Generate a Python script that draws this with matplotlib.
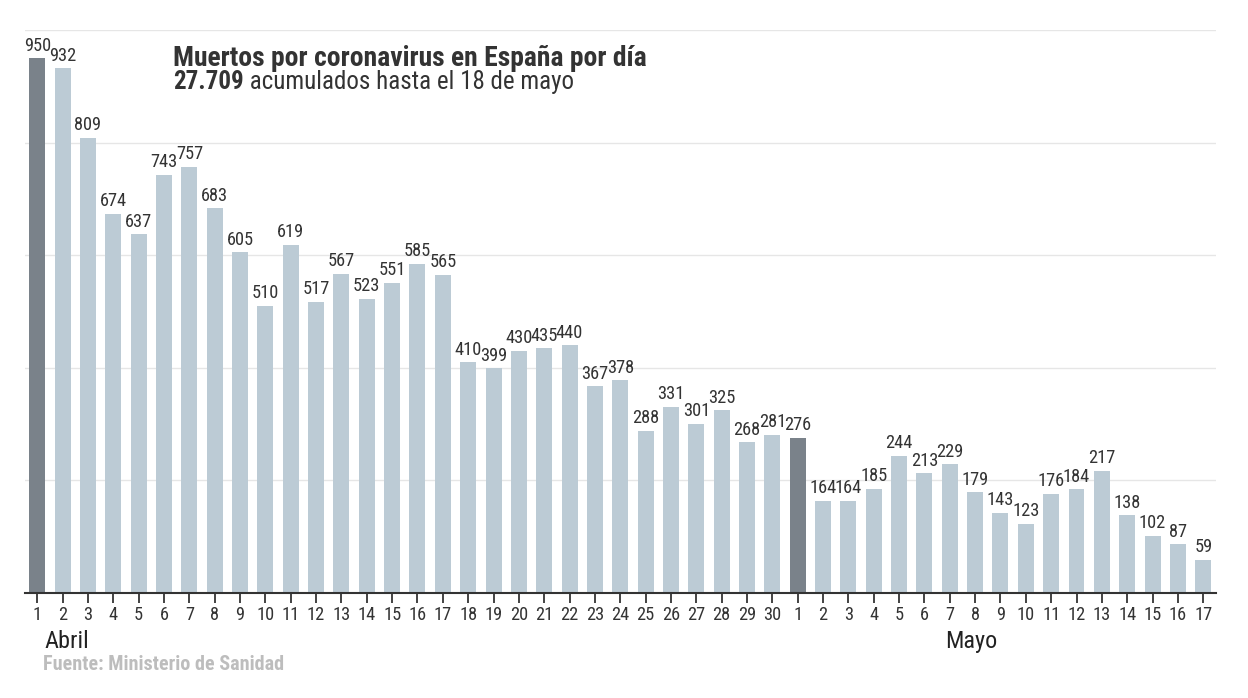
import matplotlib
matplotlib.use('Agg')
import matplotlib.pyplot as plt
from matplotlib import font_manager
import numpy as np

# datos: muertos diarios (1 abril - 17 mayo)
abril = [950, 932, 809, 674, 637, 743, 757, 683, 605, 510, 619, 517, 567, 523, 551,
         585, 565, 410, 399, 430, 435, 440, 367, 378, 288, 331, 301, 325, 268, 281]
mayo = [276, 164, 164, 185, 244, 213, 229, 179, 143, 123, 176, 184, 217, 138, 102, 87, 59]
dias = [str(d) for d in range(1, 31)] + [str(d) for d in range(1, 18)]
valores = abril + mayo
destacados = [0, 30]  # primer dia de cada mes

titulo = 'Muertos por coronavirus en España por día'
total = '27.709'
subtitulo = ' acumulados hasta el 18 de mayo'
fuente = 'Fuente: Ministerio de Sanidad'

names = set(f.name for f in font_manager.fontManager.ttflist)
family = 'Roboto'
for cand in ['Roboto Condensed', 'Liberation Sans Narrow', 'Roboto']:
    if cand in names:
        family = cand
        break
plt.rcParams['font.family'] = [family, 'DejaVu Sans']

c_claro = '#bccbd5'
c_oscuro = '#7a828a'
c_texto = '#333333'

fig = plt.figure(figsize=(12.48, 6.98), dpi=100)
ax = fig.add_axes([0.0197, 0.1504, 0.9546, 0.8066])

x = np.arange(len(valores))
colores = [c_oscuro if i in destacados else c_claro for i in x]
ax.bar(x, valores, width=0.63, color=colores, zorder=2)
for xi, v in zip(x, valores):
    ax.annotate(str(v), (xi, v), xytext=(0, 2.5), textcoords='offset points',
                ha='center', va='bottom', fontsize=13.2, color=c_texto)

ax.set_xlim(-0.5, len(valores) - 0.5)
ax.set_ylim(0, 1000)
ax.set_yticks([200, 400, 600, 800, 1000])
ax.yaxis.grid(True, color='#e6e6e6', lw=1, zorder=0)
ax.tick_params(axis='y', length=0, labelleft=False)
ax.set_xticks(x)
ax.set_xticklabels(dias)
ax.tick_params(axis='x', length=7.5, width=1.2, color='#222222', labelsize=13.2,
               labelcolor=c_texto, pad=2)
for s in ['top', 'right', 'left']:
    ax.spines[s].set_visible(False)
ax.spines['bottom'].set_color('#333333')
ax.spines['bottom'].set_linewidth(1.5)
ax.spines['bottom'].set_zorder(3)

ax.text(0.3, -0.065, 'Abril', transform=ax.get_xaxis_transform(), ha='left',
        va='top', fontsize=17.5, color='#222222')
ax.text(36.85, -0.065, 'Mayo', transform=ax.get_xaxis_transform(), ha='center',
        va='top', fontsize=17.5, color='#222222')

fig.text(0.1386, 0.9054, titulo, fontsize=19.9, fontweight='bold', color=c_texto,
         va='baseline', ha='left')
t1 = fig.text(0.1386, 0.8725, total, fontsize=18, fontweight='bold', color=c_texto,
              va='baseline', ha='left')
ax.annotate(subtitulo, xy=(1, 0), xycoords=t1, fontsize=18, color=c_texto,
            va='bottom', ha='left', annotation_clip=False)

fig.text(0.0345, 0.040, fuente, fontsize=14.5, fontweight='bold', color='#bdbdbd',
         va='baseline', ha='left')

fig.savefig('out.png', dpi=100)
